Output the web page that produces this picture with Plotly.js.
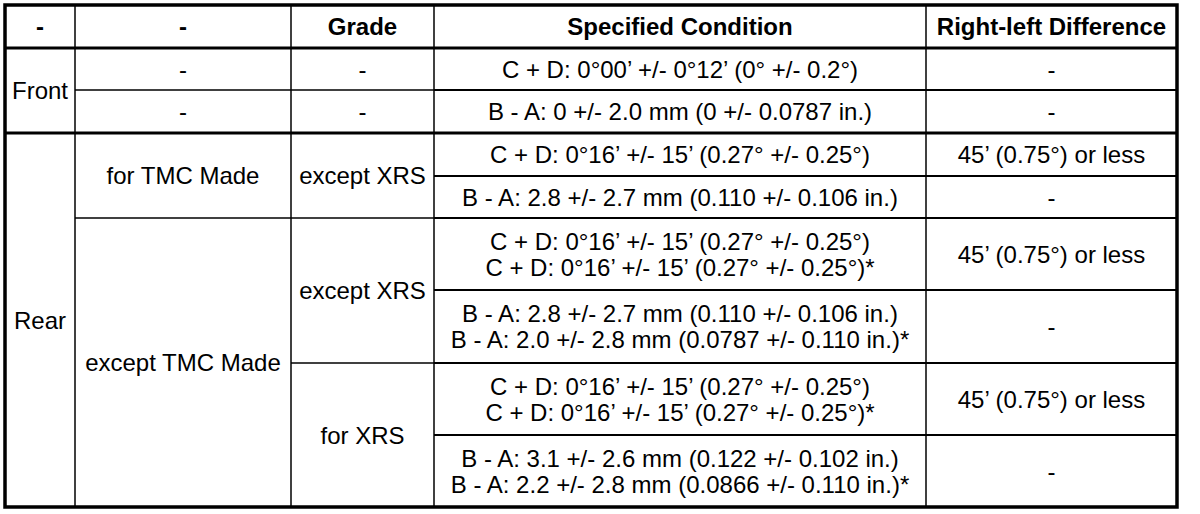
<!DOCTYPE html>
<html>
<head>
<meta charset="utf-8">
<script src="https://cdn.plot.ly/plotly-3.0.1.min.js"></script>
<style>
  html, body { margin: 0; padding: 0; background: #fff; }
  #chart { width: 1200px; height: 514px; }
</style>
</head>
<body>
<div id="chart"></div>
<script>
// header row
const headers = ['-', '-', 'Grade', 'Specified Condition', 'Right-left Difference'];

// first column: axle, and how many body rows each label covers
const axleLabels = ['Front', 'Rear'];
const axleSpans = [2, 6];

// second column: where the car is made
const makeLabels = ['-', '-', 'for TMC Made', 'except TMC Made'];
const makeSpans = [1, 1, 2, 4];

// third column: grade
const gradeLabels = ['-', '-', 'except XRS', 'except XRS', 'for XRS'];
const gradeSpans = [1, 1, 2, 2, 2];

// specified condition, one list of text lines per body row
const specLabels = [
    ['C + D: 0°00’ +/- 0°12’ (0° +/- 0.2°)'],
    ['B - A: 0 +/- 2.0 mm (0 +/- 0.0787 in.)'],
    ['C + D: 0°16’ +/- 15’ (0.27° +/- 0.25°)'],
    ['B - A: 2.8 +/- 2.7 mm (0.110 +/- 0.106 in.)'],
    ['C + D: 0°16’ +/- 15’ (0.27° +/- 0.25°)', 'C + D: 0°16’ +/- 15’ (0.27° +/- 0.25°)*'],
    ['B - A: 2.8 +/- 2.7 mm (0.110 +/- 0.106 in.)', 'B - A: 2.0 +/- 2.8 mm (0.0787 +/- 0.110 in.)*'],
    ['C + D: 0°16’ +/- 15’ (0.27° +/- 0.25°)', 'C + D: 0°16’ +/- 15’ (0.27° +/- 0.25°)*'],
    ['B - A: 3.1 +/- 2.6 mm (0.122 +/- 0.102 in.)', 'B - A: 2.2 +/- 2.8 mm (0.0866 +/- 0.110 in.)*']
];

// right-left difference, one per body row
const diffLabels = ['-', '-', '45’ (0.75°) or less', '-', '45’ (0.75°) or less', '-', '45’ (0.75°) or less', '-'];

// ---- layout (pixel units on the axes) ----
const colEdges = [5, 75, 291, 434, 926, 1177];
const headTop = 5, headBottom = 48;
const rowHeights = [42, 43, 43, 42, 72, 73, 72, 72];
const lineGap = 26;
const textNudge = 2.5;   // text sits a little below the cell middle
const FONT = 'Liberation Sans, Arial, Helvetica, sans-serif';

let rowEdges = [headBottom];
rowHeights.forEach(h => rowEdges.push(rowEdges[rowEdges.length - 1] + h));
const bottom = rowEdges[rowEdges.length - 1];

const columns = [
    { labels: axleLabels, spans: axleSpans },
    { labels: makeLabels, spans: makeSpans },
    { labels: gradeLabels, spans: gradeSpans },
    { labels: specLabels, spans: specLabels.map(() => 1) },
    { labels: diffLabels, spans: diffLabels.map(() => 1) }
];

// rows where a new axle group starts get the heavy rule
let axleBreaks = [];
let acc = 0;
axleSpans.forEach(s => { acc += s; axleBreaks.push(acc); });

let tx = [], ty = [], tt = [];
let shapes = [];

function hline(x0, x1, y, w) {
    shapes.push({ type: 'line', xref: 'x', yref: 'y', x0: x0, x1: x1, y0: y, y1: y, line: { color: '#000', width: w } });
}
function vline(x, y0, y1, w) {
    shapes.push({ type: 'line', xref: 'x', yref: 'y', x0: x, x1: x, y0: y0, y1: y1, line: { color: '#000', width: w } });
}

// header texts
headers.forEach((h, c) => {
    tx.push((colEdges[c] + colEdges[c + 1]) / 2);
    ty.push((headTop + headBottom) / 2 + textNudge);
    tt.push('<b>' + h + '</b>');
});

// body cells
columns.forEach((col, c) => {
    let r = 0;
    col.labels.forEach((lab, i) => {
        let r1 = r + col.spans[i];
        let yc = (rowEdges[r] + rowEdges[r1]) / 2 + textNudge;
        let xc = (colEdges[c] + colEdges[c + 1]) / 2;
        let lines = Array.isArray(lab) ? lab : [lab];
        lines.forEach((ln, k) => {
            tx.push(xc);
            ty.push(yc + (k - (lines.length - 1) / 2) * lineGap);
            tt.push(ln);
        });
        if (r1 < rowHeights.length) {
            let w = axleBreaks.includes(r1) ? 3 : (c >= 3 ? 2 : 1.3);
            hline(colEdges[c], colEdges[c + 1], rowEdges[r1], w);
        }
        r = r1;
    });
});

// column rules
for (let c = 1; c < colEdges.length - 1; c++) vline(colEdges[c], headTop, bottom, 1.5);
// header rule and frame
hline(colEdges[0], colEdges[colEdges.length - 1], headBottom, 3);
shapes.push({ type: 'rect', xref: 'x', yref: 'y', x0: colEdges[0], x1: colEdges[colEdges.length - 1], y0: headTop, y1: bottom, line: { color: '#000', width: 3.5 } });

let trace = {
    x: tx, y: ty, text: tt,
    type: 'scatter', mode: 'text',
    textposition: 'middle center',
    textfont: { family: FONT, size: 24, color: '#000' },
    hoverinfo: 'skip', showlegend: false
};

let layout = {
    width: 1200, height: 514,
    margin: { t: 0, l: 0, r: 0, b: 0 },
    paper_bgcolor: '#fff', plot_bgcolor: '#fff',
    xaxis: { range: [0, 1200], visible: false, fixedrange: true },
    yaxis: { range: [514, 0], visible: false, fixedrange: true },
    shapes: shapes,
    showlegend: false
};

Plotly.newPlot('chart', [trace], layout, { staticPlot: true, displayModeBar: false });
</script>
</body>
</html>
